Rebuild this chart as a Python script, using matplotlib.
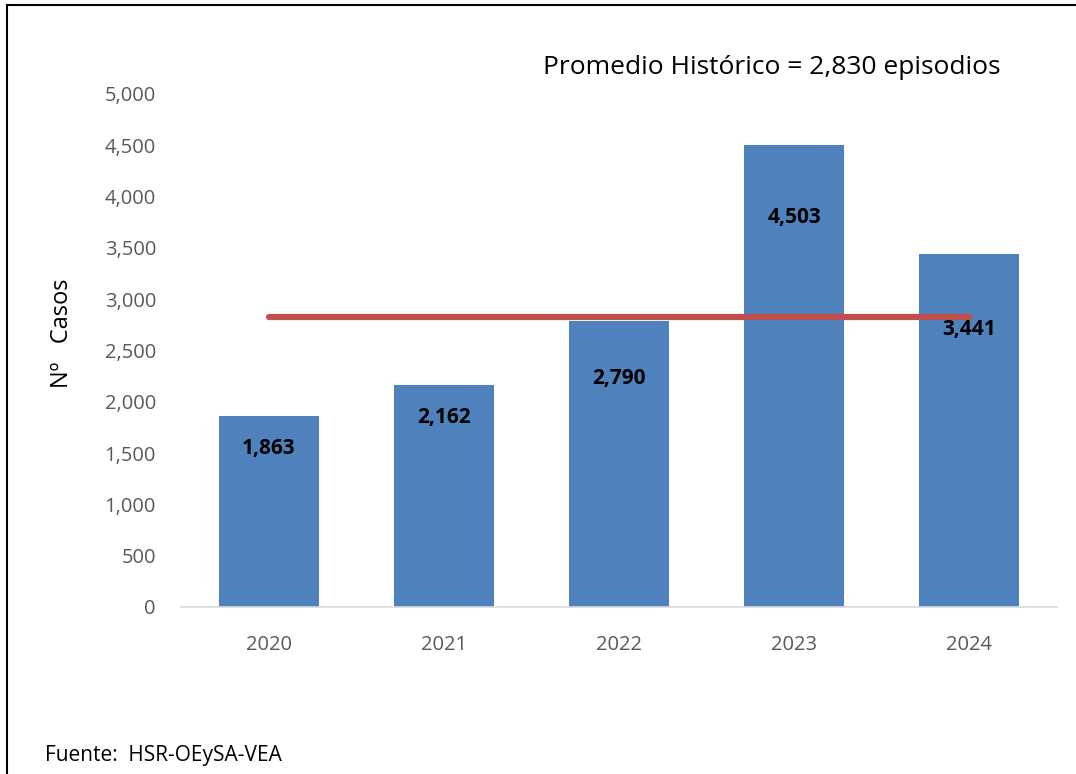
import matplotlib
matplotlib.use("Agg")
import matplotlib.pyplot as plt
from matplotlib.patches import Rectangle

# data
years = ["2020", "2021", "2022", "2023", "2024"]
casos = [1863, 2162, 2790, 4503, 3441]
promedio = 2830
label_drop = [33, 32, 58, 73, 76]  # px below bar top where the value labels sit

plt.rcParams['font.family'] = ['Open Sans', 'DejaVu Sans']

fig = plt.figure(figsize=(10.76, 7.74), dpi=100)
ax = fig.add_axes([181/1076, 1 - 607/774, 876/1076, (607 - 94)/774])

x = list(range(len(years)))
ax.bar(x, casos, width=0.57, color='#4f81bd', zorder=2)
ax.plot([x[0], x[-1]], [promedio, promedio], color='#c0504d', lw=4.5,
        solid_capstyle='round', zorder=3)

for xi, v, d in zip(x, casos, label_drop):
    ax.annotate(f"{v:,}", (xi, v), xytext=(0, -d * 0.72), textcoords='offset points',
                ha='center', va='center', fontsize=15, fontweight='bold',
                color='black', zorder=4)

ax.set_xlim(-0.5, 4.5)
ax.set_ylim(0, 5000)
ax.set_yticks(range(0, 5001, 500))
ax.set_yticklabels([f"{t:,}" for t in range(0, 5001, 500)])
ax.set_xticks(x)
ax.set_xticklabels(years)
ax.tick_params(axis='both', length=0, labelsize=14.5, colors='#595959')
ax.tick_params(axis='y', pad=18)
ax.tick_params(axis='x', pad=20)
for s in ['top', 'right', 'left']:
    ax.spines[s].set_visible(False)
ax.spines['bottom'].set_color('#d9d9d9')
ax.spines['bottom'].set_linewidth(1.2)

fig.text(62/1076, 1 - 333/774, "Nº   Casos", rotation=90, ha='center', va='center',
         fontsize=17, color='black')
fig.text(543/1076, 1 - 67/774, "Promedio Histórico = 2,830 episodios", ha='left',
         va='center', fontsize=19, color='black')
fig.text(45/1076, 1 - 755/774, "Fuente:  HSR-OEySA-VEA", ha='left', va='center',
         fontsize=15, color='black')

fig.patches.append(Rectangle((7/1076, -0.1), 1.2, 1 - 5/774 + 0.1,
                             transform=fig.transFigure, fill=False,
                             edgecolor='black', lw=1.5))

fig.savefig("out.png", dpi=100)
